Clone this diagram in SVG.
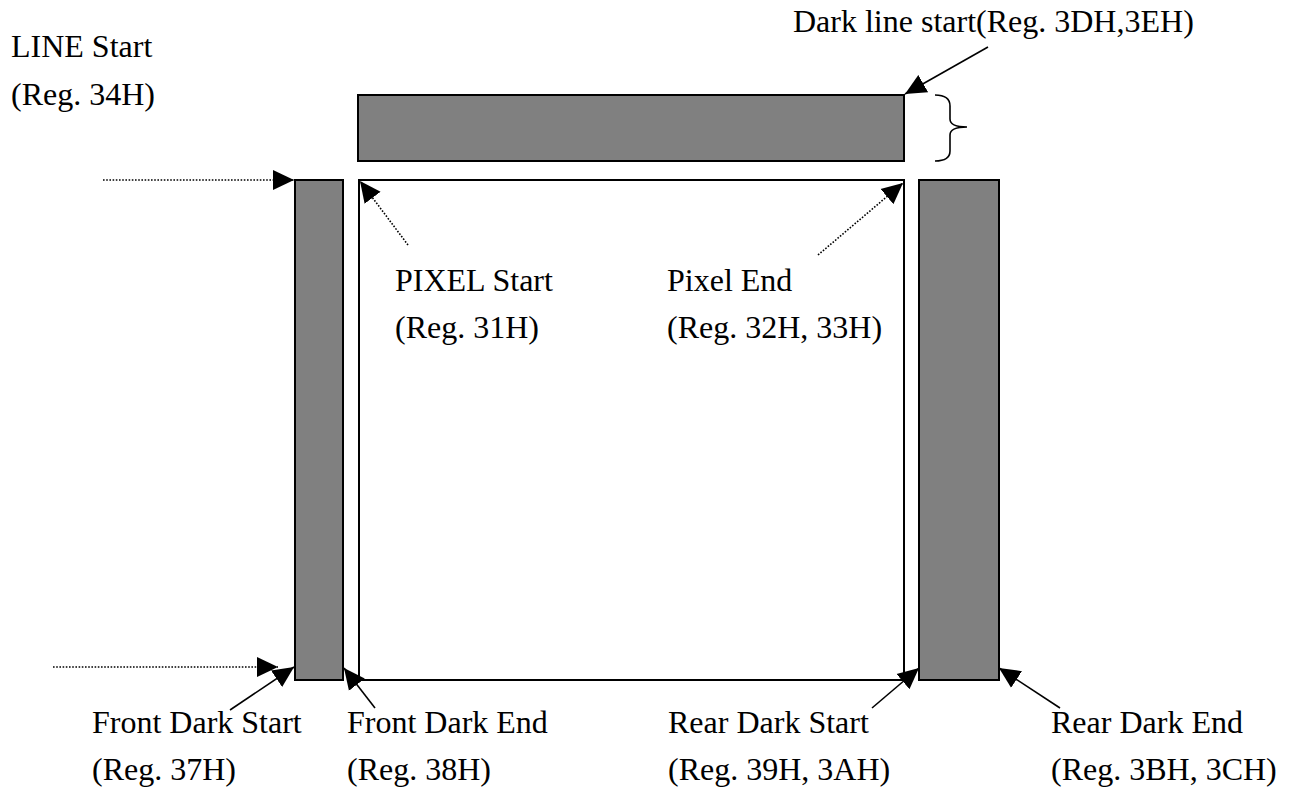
<svg xmlns="http://www.w3.org/2000/svg" width="1293" height="790" viewBox="0 0 1293 790">
<style>
.t{font-family:"Liberation Serif","Times New Roman",serif;font-size:32px;fill:#000}
.dark{fill:#808080;stroke:#000;stroke-width:2}
.area{fill:#fff;stroke:#000;stroke-width:2}
.solid{stroke:#000;stroke-width:1.6;fill:none}
.dot{stroke:#000;stroke-width:1.6;fill:none;stroke-dasharray:1.6 1.6}
</style>
<defs>
<marker id="ah" viewBox="0 0 20 20" refX="20" refY="10" markerWidth="21" markerHeight="21" markerUnits="userSpaceOnUse" orient="auto">
<path d="M0,0.5 L20,10 L0,19.5 z" fill="#000"/>
</marker>
</defs>
<rect width="1293" height="790" fill="#fff"/>
<g id="dark-line-bar"><rect class="dark" x="358" y="95" width="546" height="66"/></g>
<g id="front-dark"><rect class="dark" x="295" y="180" width="48" height="500"/></g>
<g id="pixel-area"><rect class="area" x="359" y="180" width="545" height="500"/></g>
<g id="rear-dark"><rect class="dark" x="919" y="180" width="80" height="500"/></g>
<g id="brace"><path class="solid" d="M935,95 C945,95 950,98 950,106 L950,119 C950,124 955,127 967,127 C955,127 950,130 950,135 L950,151 C950,158 945,161 935,161"/></g>
<g id="connectors">
<line class="solid" x1="988" y1="47" x2="905" y2="94" marker-end="url(#ah)"/>
<line class="dot" x1="103" y1="180" x2="294" y2="180" marker-end="url(#ah)"/>
<line class="dot" x1="53" y1="667" x2="278" y2="667" marker-end="url(#ah)"/>
<line class="dot" x1="408" y1="245" x2="360" y2="181" marker-end="url(#ah)"/>
<line class="dot" x1="818" y1="255" x2="903" y2="183" marker-end="url(#ah)"/>
<line class="solid" x1="230" y1="710" x2="294" y2="667" marker-end="url(#ah)"/>
<line class="solid" x1="375" y1="708" x2="344" y2="668" marker-end="url(#ah)"/>
<line class="solid" x1="872" y1="708" x2="919" y2="668" marker-end="url(#ah)"/>
<line class="solid" x1="1060" y1="708" x2="999" y2="668" marker-end="url(#ah)"/>
</g>
<g id="labels">
<text class="t" x="11" y="57">LINE Start</text>
<text class="t" x="11" y="105">(Reg. 34H)</text>
<text class="t" x="793" y="32">Dark line start(Reg. 3DH,3EH)</text>
<text class="t" x="395" y="291">PIXEL Start</text>
<text class="t" x="395" y="338">(Reg. 31H)</text>
<text class="t" x="667" y="291">Pixel End</text>
<text class="t" x="667" y="338">(Reg. 32H, 33H)</text>
<text class="t" x="92" y="733">Front Dark Start</text>
<text class="t" x="92" y="780">(Reg. 37H)</text>
<text class="t" x="347" y="733">Front Dark End</text>
<text class="t" x="347" y="780">(Reg. 38H)</text>
<text class="t" x="668" y="733">Rear Dark Start</text>
<text class="t" x="668" y="780">(Reg. 39H, 3AH)</text>
<text class="t" x="1051" y="733">Rear Dark End</text>
<text class="t" x="1051" y="780">(Reg. 3BH, 3CH)</text>
</g>
</svg>
